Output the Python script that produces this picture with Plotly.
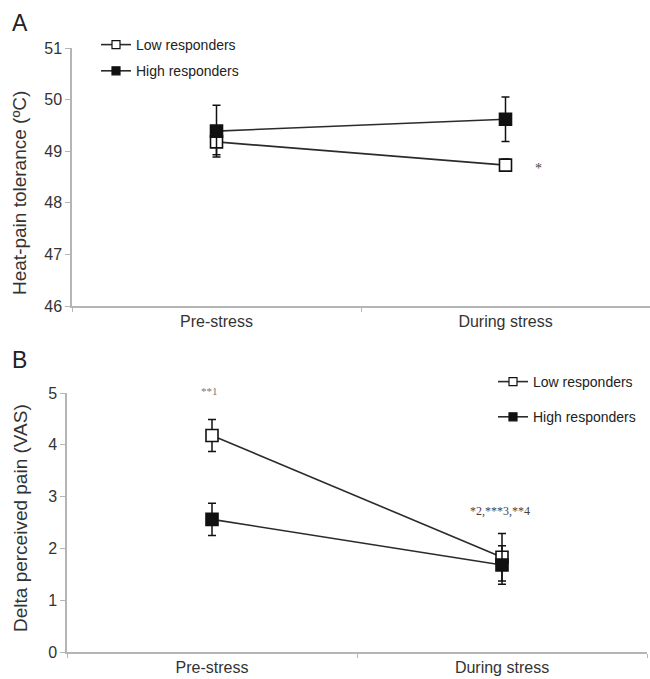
import plotly.graph_objects as go

categories = ["Pre-stress", "During stress"]

# Panel A: heat-pain tolerance (°C)
a_low = [49.18, 48.73]
a_low_err = [0.25, 0.12]
a_high = [49.39, 49.62]
a_high_err = [0.50, 0.43]

# Panel B: delta perceived pain (VAS)
b_low = [4.18, 1.83]
b_low_err = [0.31, 0.46]
b_high = [2.56, 1.68]
b_high_err = [0.31, 0.37]

series_names = ["Low responders", "High responders"]
a_ticks = [46, 47, 48, 49, 50, 51]
b_ticks = [0, 1, 2, 3, 4, 5]
a_title = "Heat-pain tolerance (ºC)"
b_title = "Delta perceived pain (VAS)"

W, H = 650, 679
def px_x(p):
    return p / W
def px_y(p):
    return 1 - p / H

fig = go.Figure()

line_col = "#2b2b2b"

def add_series(x_ax, y_ax, yv, err, name, fill, legend, group):
    fig.add_trace(go.Scatter(
        x=categories, y=yv, name=name, mode="lines+markers",
        xaxis=x_ax, yaxis=y_ax, showlegend=False, legendgroup=group,
        line=dict(color=line_col, width=1.6),
        marker=dict(symbol="square", size=12, color=fill,
                    line=dict(color="#111111", width=1.6)),
        error_y=dict(type="data", array=err, visible=True,
                     color="#111111", thickness=1.5, width=4),
    ))
    # legend-only entry with a smaller key symbol, as in the original figure
    fig.add_trace(go.Scatter(
        x=[None], y=[None], name=name, mode="lines+markers",
        xaxis=x_ax, yaxis=y_ax, legend=legend, legendgroup=group,
        line=dict(color=line_col, width=1.6),
        marker=dict(symbol="square", size=8, color=fill,
                    line=dict(color="#111111", width=1.2)),
    ))

add_series("x", "y", a_low, a_low_err, series_names[0], "white", "legend", "a1")
add_series("x", "y", a_high, a_high_err, series_names[1], "#111111", "legend", "a2")
add_series("x2", "y2", b_low, b_low_err, series_names[0], "white", "legend2", "b1")
add_series("x2", "y2", b_high, b_high_err, series_names[1], "#111111", "legend2", "b2")

font_main = "Liberation Sans, Arial, sans-serif"
axis_col = "#b5b5b5"
tick_font = dict(family=font_main, size=16, color="#333333")
title_font = dict(family=font_main, size=19, color="#333333")

xcommon = dict(type="category", categoryorder="array", categoryarray=categories,
               range=[-0.5, 1.5], showline=True, linecolor=axis_col, linewidth=1.5,
               ticks="outside", tickson="boundaries", ticklen=4, tickcolor=axis_col,
               tickfont=tick_font, showgrid=False, zeroline=False, fixedrange=True,
               automargin=False)
ycommon = dict(showline=True, linecolor=axis_col, linewidth=1.5, ticks="outside",
               ticklen=5, tickcolor=axis_col, tickfont=tick_font, showgrid=False,
               zeroline=False, fixedrange=True, automargin=False)

fig.update_layout(
    width=W, height=H,
    margin=dict(l=0, r=0, t=0, b=0, autoexpand=False),
    paper_bgcolor="white", plot_bgcolor="white",
    showlegend=True,
    xaxis=dict(xcommon, domain=[px_x(72), 1.0], anchor="y"),
    yaxis=dict(ycommon, domain=[px_y(306), px_y(48)], range=[46, 51],
               tickvals=a_ticks, anchor="x"),
    xaxis2=dict(xcommon, domain=[px_x(67), px_x(647)], anchor="y2"),
    yaxis2=dict(ycommon, domain=[px_y(652), px_y(393)], range=[0, 5],
                tickvals=b_ticks, anchor="x2"),
    legend=dict(x=px_x(96), y=px_y(29), xanchor="left", yanchor="top",
                font=dict(family=font_main, size=14, color="#222222"),
                bgcolor="rgba(0,0,0,0)", tracegroupgap=5, itemwidth=30),
    legend2=dict(x=px_x(493), y=px_y(366), xanchor="left", yanchor="top",
                 font=dict(family=font_main, size=14, color="#222222"),
                 bgcolor="rgba(0,0,0,0)", tracegroupgap=14, itemwidth=30),
    annotations=[
        dict(text="A", x=px_x(10), y=px_y(23), xref="paper", yref="paper",
             xanchor="left", yanchor="middle", showarrow=False,
             font=dict(family=font_main, size=23, color="#222222")),
        dict(text="B", x=px_x(10), y=px_y(360), xref="paper", yref="paper",
             xanchor="left", yanchor="middle", showarrow=False,
             font=dict(family=font_main, size=23, color="#222222")),
        dict(text=a_title, x=px_x(19), y=px_y(193), xref="paper", yref="paper",
             xanchor="center", yanchor="middle", textangle=-90, showarrow=False,
             font=title_font),
        dict(text=b_title, x=px_x(20), y=px_y(518), xref="paper", yref="paper",
             xanchor="center", yanchor="middle", textangle=-90, showarrow=False,
             font=title_font),
        dict(text="*", x=categories[1], y=a_low[1], xref="x", yref="y",
             xshift=33, yshift=-3, showarrow=False,
             font=dict(family="Liberation Serif, serif", size=14, color="#444444")),
        dict(text="**1", x=categories[0], y=5.0, xref="x2", yref="y2",
             xshift=-3, yshift=2, showarrow=False,
             font=dict(family="Liberation Serif, serif", size=11, color="#777777")),
        dict(text="*2,***3,**4", x=categories[1], y=2.72, xref="x2", yref="y2",
             xshift=-2, showarrow=False,
             font=dict(family="Liberation Serif, serif", size=12, color="#444444")),
    ],
)

fig.write_html(
    "out.html",
    config={"displayModeBar": False},
    post_script="document.body.style.margin='0px';document.body.style.overflow='hidden';",
)
